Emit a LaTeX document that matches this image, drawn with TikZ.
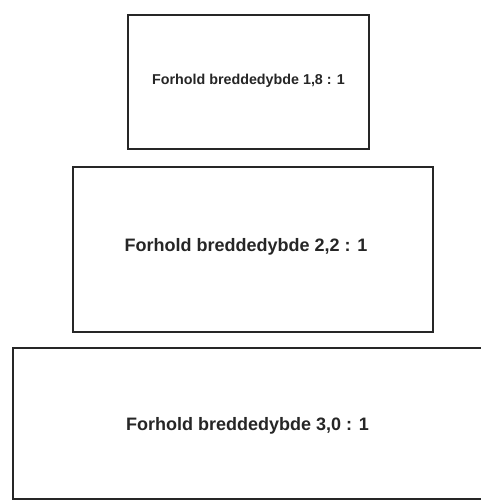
\documentclass[tikz,border=0pt]{standalone}
\usepackage{fontspec}
\setmainfont{Liberation Sans}
\tikzset{
  ratiobox/.style={draw=black!85, line width=2.4pt, fill=white},
  ratiotext/.style={font=\bfseries, text=black!85, inner sep=0pt},
}
\begin{document}
\begin{tikzpicture}[x=1pt,y=-1pt]
\useasboundingbox (0,0) rectangle (481,500);
\clip (0,0) rectangle (481,500);
\draw[ratiobox] (128,15) rectangle (369,149);
\node[ratiotext, font=\bfseries\fontsize{14.3}{16}\selectfont] (t1) at (248.5,81) {Forhold breddedybde 1,8 : 1};
\draw[ratiobox] (73,167) rectangle (433,332);
\node[ratiotext, font=\bfseries\fontsize{18}{20}\selectfont] (t2) at (246,247) {Forhold breddedybde 2,2 : 1};
\draw[ratiobox] (13,348) rectangle (500,499);
\node[ratiotext, font=\bfseries\fontsize{18}{20}\selectfont] (t3) at (247.5,426) {Forhold breddedybde 3,0 : 1};
\end{tikzpicture}
\end{document}
